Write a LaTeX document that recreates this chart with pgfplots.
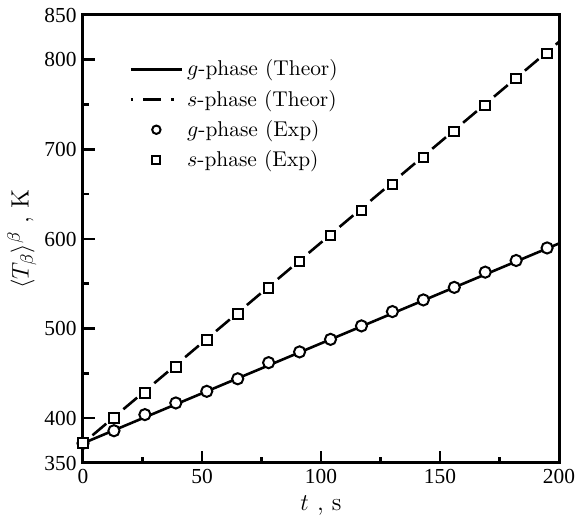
\documentclass[border=0pt]{standalone}
\usepackage{fontspec}
\usepackage{pgfplots}
\pgfplotsset{compat=1.18}
\newfontfamily\timesfont{Liberation Serif}
\begin{document}
\begin{tikzpicture}
\begin{axis}[
  scale only axis,
  width=238pt, height=224pt,
  xmin=0, xmax=200, ymin=350, ymax=850,
  xtick={0,50,100,150,200},
  ytick={350,400,500,600,700,800,850},
  minor xtick={25,75,125,175},
  minor ytick={450,550,650,750},
  tick pos=left,
  tick align=inside,
  major tick length=6pt,
  minor tick length=3pt,
  every tick/.style={line width=1.3pt, black},
  axis line style={line width=1.5pt},
  /pgf/number format/assume math mode=true,
  tick label style={font=\timesfont\fontsize{10.7}{12}\selectfont, inner sep=0pt},
  yticklabel style={xshift=-3pt},
  xticklabel style={yshift=-3pt},
  xlabel={$t$ , s},
  ylabel={$\langle T_\beta\rangle^\beta$ , K},
  label style={font=\fontsize{12.5}{15}\selectfont},
  xlabel style={at={(axis description cs:0.5,0)}, anchor=north, inner sep=0pt, yshift=-16pt},
  ylabel style={at={(axis description cs:-0.097,0.5)}, anchor=south, inner sep=0pt},
  legend style={at={(axis description cs:0.097,0.91)}, anchor=north west, draw=none, fill=none,
    font=\fontsize{10.7}{13}\selectfont, row sep=1.6pt, inner sep=0pt},
  legend cell align=left,
  legend image code/.code={\draw[#1,mark repeat=2,mark phase=2] plot coordinates {(0pt,0pt) (12.75pt,0pt) (25.5pt,0pt)};},
  /tikz/every even column/.append style={column sep=15pt},
]
\addlegendimage{black, line width=1.3pt}
\addlegendentry{$g$-phase (Theor)}
\addlegendimage{black, line width=1.3pt, dash pattern=on 1.2pt off 5pt on 9pt off 5pt}
\addlegendentry{$s$-phase (Theor)}
\addlegendimage{only marks, mark=*, mark size=2.1pt, mark options={line width=1pt, draw=black, fill=white}}
\addlegendentry{$g$-phase (Exp)}
\addlegendimage{only marks, mark=square*, mark size=2pt, mark options={line width=1pt, draw=black, fill=white}}
\addlegendentry{$s$-phase (Exp)}

\addplot[forget plot, black, line width=1.3pt] coordinates {(0,372) (200,595)};
\addplot[forget plot, black, line width=1.3pt, dash pattern=on 1.2pt off 5pt on 9pt off 5pt] coordinates {(0,372) (200,820)};
\addplot[forget plot, only marks, mark=*, mark size=2.8pt, mark options={line width=1pt, draw=black, fill=white}] coordinates {
(0,372) (13,386) (26,404) (39,417) (52,430) (65,444) (78,462) (91,474) (104,488) (117,503) (130,519) (143,532) (156,546) (169,563) (182,576) (195,590)};
\addplot[forget plot, only marks, mark=square*, mark size=2.4pt, mark options={line width=1pt, draw=black, fill=white}] coordinates {
(0,372) (13,400) (26,428) (39,457) (52,487) (65,516) (78,545) (91,575) (104,604) (117,632) (130,661) (143,691) (156,720) (169,749) (182,779) (195,807)};
\coordinate (SW) at (rel axis cs:0,0);
\coordinate (NE) at (rel axis cs:1,1);
\end{axis}
\pgfresetboundingbox
\path[use as bounding box] ([xshift=-41.5pt,yshift=-27pt]SW) rectangle ([xshift=9pt,yshift=7.5pt]NE);
\end{tikzpicture}
\end{document}
